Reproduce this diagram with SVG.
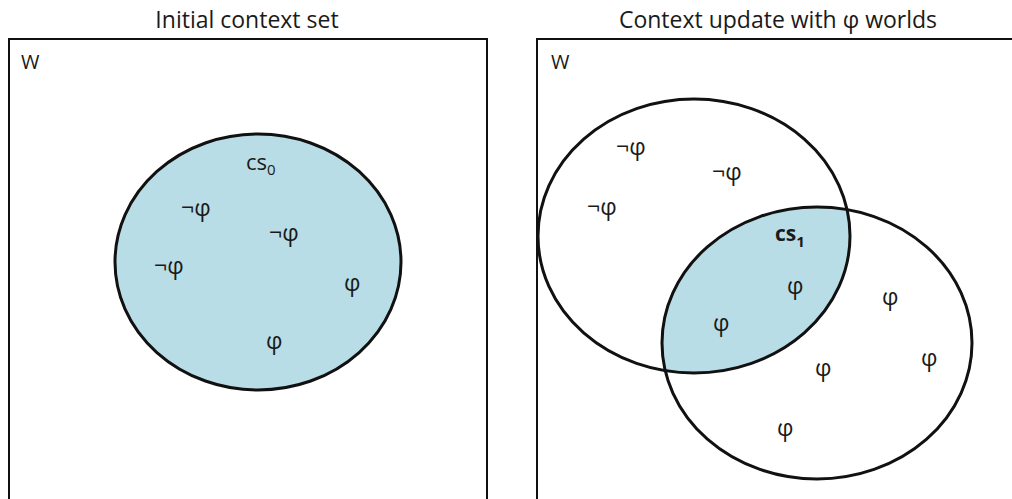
<svg xmlns="http://www.w3.org/2000/svg" width="1012" height="499" viewBox="0 0 1012 499">
<style>
.title{font-family:"Open Sans","Noto Sans",sans-serif;font-size:23px;fill:#1a1a1a}
.w{font-family:"Open Sans","Noto Sans",sans-serif;font-size:20px;fill:#1a1a1a}
.frame{fill:none;stroke:#111;stroke-width:2}
.set{stroke:#111;stroke-width:3}
.lab{font-family:"Open Sans","Noto Sans",sans-serif;font-size:23px;fill:#1a1a1a}
.cs{font-family:"Open Sans","Noto Sans",sans-serif;font-size:22px;fill:#1a1a1a}
.cs1{font-family:"Open Sans",sans-serif;font-size:21px;font-weight:bold;fill:#1a1a1a}
</style>
<defs>
<clipPath id="clipUpper"><ellipse cx="694" cy="236" rx="156" ry="137"/></clipPath>
</defs>
<rect width="1012" height="499" fill="#fff"/>
<g id="left-panel">
<text class="title" x="247" y="28" text-anchor="middle">Initial context set</text>
<rect class="frame" x="9" y="39" width="478" height="470"/>
<text class="w" x="21" y="69">W</text>
</g>
<g id="cs0">
<ellipse class="set" cx="258" cy="262" rx="143" ry="128" fill="#b8dde6"/>
<text class="cs" x="246" y="170">cs<tspan font-size="15" dy="5">0</tspan></text>
</g>
<g id="left-labels" class="lab">
<text x="181" y="216">¬φ</text>
<text x="269" y="241">¬φ</text>
<text x="154" y="274">¬φ</text>
<text x="344" y="291">φ</text>
<text x="266" y="349">φ</text>
</g>
<g id="right-panel">
<text class="title" x="778" y="28" text-anchor="middle">Context update with φ worlds</text>
<rect class="frame" x="537" y="39" width="490" height="470"/>
<text class="w" x="551" y="69">W</text>
</g>
<g id="cs1">
<ellipse cx="817" cy="343" rx="155" ry="136" fill="#b8dde6" clip-path="url(#clipUpper)"/>
<text class="cs1" x="775" y="241">cs<tspan font-size="15" dy="6">1</tspan></text>
</g>
<g id="upper-set">
<ellipse class="set" cx="694" cy="236" rx="156" ry="137" fill="none"/>
</g>
<g id="lower-set">
<ellipse class="set" cx="817" cy="343" rx="155" ry="136" fill="none"/>
</g>
<g id="right-labels" class="lab">
<text x="616" y="155">¬φ</text>
<text x="712" y="180">¬φ</text>
<text x="587" y="215">¬φ</text>
<text x="787" y="294">φ</text>
<text x="713" y="331">φ</text>
<text x="882" y="305">φ</text>
<text x="921" y="366">φ</text>
<text x="815" y="376">φ</text>
<text x="777" y="436">φ</text>
</g>
</svg>
